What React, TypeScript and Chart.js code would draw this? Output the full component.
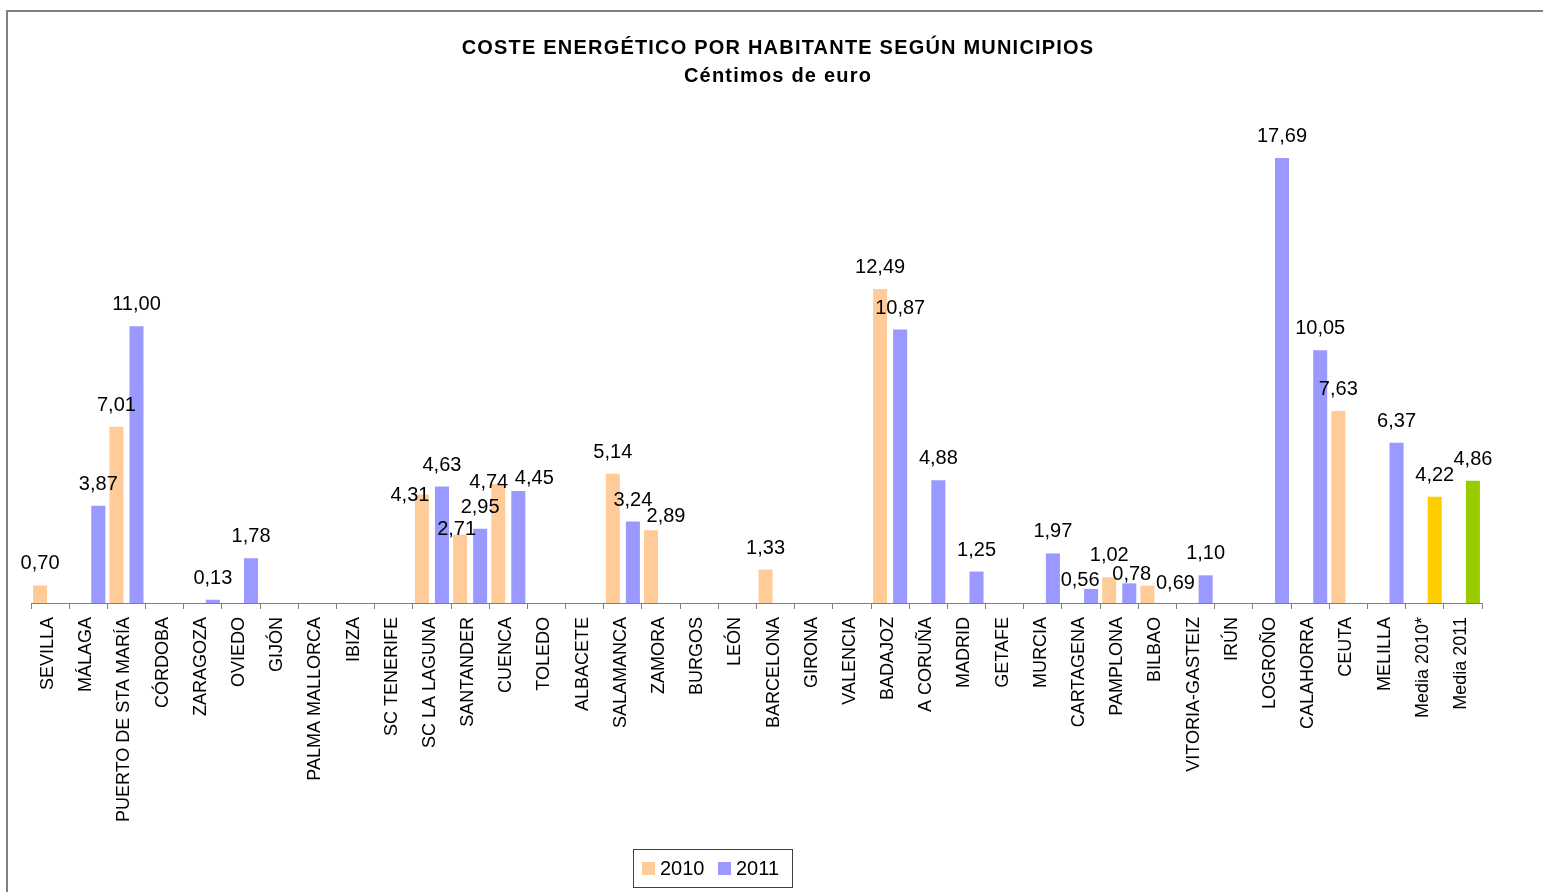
import React, { useEffect, useRef } from 'react';
import { Chart, registerables } from 'chart.js';

Chart.register(...registerables);

const FONT = '"Liberation Sans", Arial, Helvetica, sans-serif';

const titleLines = ['COSTE ENERGÉTICO POR HABITANTE SEGÚN MUNICIPIOS', 'Céntimos de euro'];

const categories = [
  'SEVILLA', 'MÁLAGA', 'PUERTO DE STA MARÍA', 'CÓRDOBA', 'ZARAGOZA', 'OVIEDO', 'GIJÓN',
  'PALMA MALLORCA', 'IBIZA', 'SC TENERIFE', 'SC LA LAGUNA', 'SANTANDER', 'CUENCA', 'TOLEDO',
  'ALBACETE', 'SALAMANCA', 'ZAMORA', 'BURGOS', 'LEÓN', 'BARCELONA', 'GIRONA', 'VALENCIA',
  'BADAJOZ', 'A CORUÑA', 'MADRID', 'GETAFE', 'MURCIA', 'CARTAGENA', 'PAMPLONA', 'BILBAO',
  'VITORIA-GASTEIZ', 'IRÚN', 'LOGROÑO', 'CALAHORRA', 'CEUTA', 'MELILLA', 'Media 2010*', 'Media 2011',
];

const values2010 = [
  0.70, null, 7.01, null, null, null, null,
  null, null, null, 4.31, 2.71, 4.74, null,
  null, 5.14, 2.89, null, null, 1.33, null, null,
  12.49, null, null, null, null, null, 1.02, 0.69,
  null, null, null, null, 7.63, null, null, null,
];

const values2011 = [
  null, 3.87, 11.00, null, 0.13, 1.78, null,
  null, null, null, 4.63, 2.95, 4.45, null,
  null, 3.24, null, null, null, null, null, null,
  10.87, 4.88, 1.25, null, 1.97, 0.56, 0.78, null,
  1.10, null, 17.69, 10.05, null, 6.37, 4.22, 4.86,
];

const seriesLabels = ['2010', '2011'];
const COLOR_2010 = '#FFCC99';
const COLOR_2011 = '#9999FF';
const COLOR_MEDIA_2010 = '#FFCC00';
const COLOR_MEDIA_2011 = '#99CC00';

// manual nudges of some data labels (as in the original), [dx, dy] in px
const labelOffsets: Record<string, [number, number]> = {
  '0-10': [-12, 22],
  '0-11': [-3.5, 16],
  '0-12': [-9.5, 20],
  '1-12': [16, 9],
  '0-16': [15, 8],
  '1-27': [-11, 13],
  '1-28': [2.5, 13],
  '0-29': [28, 19],
};

const fmt = (v: number) => v.toFixed(2).replace('.', ',');

const framePlugin = {
  id: 'frame',
  beforeDraw(chart: any) {
    const ctx = chart.ctx;
    ctx.save();
    ctx.fillStyle = '#ffffff';
    ctx.fillRect(0, 0, chart.width, chart.height);
    ctx.fillStyle = '#808080';
    ctx.fillRect(6, 10, chart.width - 6, 2);
    ctx.fillRect(6, 10, 2, chart.height - 10);
    ctx.fillStyle = '#000000';
    ctx.textAlign = 'center';
    ctx.textBaseline = 'alphabetic';
    ctx.font = 'bold 20px ' + FONT;
    try { ctx.letterSpacing = '1.2px'; } catch (e) {}
    ctx.fillText(titleLines[0], 778, 54);
    ctx.fillText(titleLines[1], 778, 82);
    ctx.restore();
  },
};

const dataLabelPlugin = {
  id: 'dataLabels',
  afterDatasetsDraw(chart: any) {
    const ctx = chart.ctx;
    ctx.save();
    ctx.fillStyle = '#000000';
    ctx.textAlign = 'center';
    ctx.textBaseline = 'alphabetic';
    ctx.font = '20px ' + FONT;
    chart.data.datasets.forEach((ds: any, di: number) => {
      const meta = chart.getDatasetMeta(di);
      meta.data.forEach((el: any, i: number) => {
        const v = ds.data[i];
        if (v == null) return;
        const off = labelOffsets[`${di}-${i}`] || [0, 0];
        ctx.fillText(fmt(v), el.x + off[0], el.y - 16 + off[1]);
      });
    });
    ctx.restore();
  },
};

const legendPlugin = {
  id: 'boxLegend',
  afterDraw(chart: any) {
    const ctx = chart.ctx;
    ctx.save();
    ctx.strokeStyle = '#404040';
    ctx.lineWidth = 1;
    ctx.strokeRect(633.5, 849.5, 159, 38);
    const colors = [COLOR_2010, COLOR_2011];
    const xs = [642, 718];
    ctx.font = '20px ' + FONT;
    ctx.textAlign = 'left';
    ctx.textBaseline = 'alphabetic';
    chart.data.datasets.forEach((ds: any, i: number) => {
      ctx.fillStyle = colors[i];
      ctx.fillRect(xs[i], 862, 13, 13);
      ctx.fillStyle = '#000000';
      ctx.fillText(ds.label, xs[i] + 18, 875);
    });
    ctx.restore();
  },
};

export default function App() {
  const ref = useRef<HTMLCanvasElement | null>(null);

  useEffect(() => {
    if (!ref.current) return;
    const colors2011 = categories.map((c) =>
      c === 'Media 2010*' ? COLOR_MEDIA_2010 : c === 'Media 2011' ? COLOR_MEDIA_2011 : COLOR_2011
    );
    const chart = new Chart(ref.current, {
      type: 'bar',
      data: {
        labels: categories,
        datasets: [
          {
            label: seriesLabels[0],
            data: values2010,
            backgroundColor: COLOR_2010,
            borderWidth: 0,
            categoryPercentage: 1.05,
            barPercentage: 0.7,
          },
          {
            label: seriesLabels[1],
            data: values2011,
            backgroundColor: colors2011,
            borderWidth: 0,
            categoryPercentage: 1.05,
            barPercentage: 0.7,
          },
        ],
      },
      options: {
        responsive: false,
        animation: false,
        devicePixelRatio: 1,
        layout: { padding: { left: 31, right: 61, top: 100, bottom: 0 } },
        plugins: {
          legend: { display: false },
          title: { display: false },
          tooltip: { enabled: false },
        },
        scales: {
          x: {
            grid: {
              display: true,
              drawOnChartArea: false,
              drawTicks: true,
              tickLength: 6,
              color: '#7f7f7f',
              offset: true,
            },
            border: { display: true, color: '#7f7f7f', width: 1 },
            ticks: {
              autoSkip: false,
              minRotation: 90,
              maxRotation: 90,
              color: '#000000',
              font: { family: FONT, size: 18 },
              padding: 8,
              labelOffset: -2,
            },
            afterFit: (s: any) => {
              s.height = 289;
            },
          },
          y: {
            display: false,
            min: 0,
            max: 20,
          },
        },
      },
      plugins: [framePlugin, dataLabelPlugin, legendPlugin],
    } as any);
    return () => chart.destroy();
  }, []);

  return (
    <div style={{ position: 'fixed', left: 0, top: 0, width: 1543, height: 892, background: '#fff' }}>
      <canvas ref={ref} width={1543} height={892} style={{ display: 'block' }} />
    </div>
  );
}
